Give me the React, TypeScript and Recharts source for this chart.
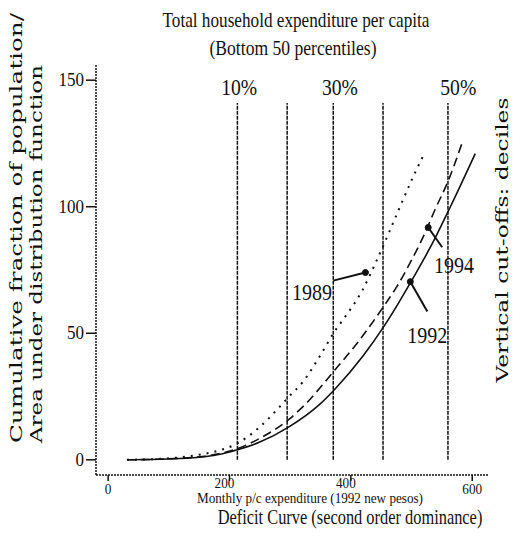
import React from 'react';
import { LineChart, Line, XAxis, YAxis, ReferenceLine, ReferenceDot, Customized } from 'recharts';

// ---- data ----
const xTicks = [0, 200, 400, 600];
const yTicks = [0, 50, 100, 150];
const deciles = [213, 295, 371, 453, 560];
const decileTop = 141;
const pctLabels = ['10%', '30%', '50%'];
const pctLabelX = [216, 382, 577];
const pctLabelY = 144;

const x1989 = [31, 100, 150, 180, 213, 250, 279, 298, 320, 349, 374, 386, 419, 443, 465, 481, 503, 522];
const y1989 = [0, 0.6, 2, 3.5, 6.5, 13, 20, 25, 30.5, 41, 51, 55, 67, 79, 91, 100, 112, 121.5];

const x1992 = [31, 100, 150, 180, 213, 250, 298, 349, 374, 420, 458, 503, 531, 564, 605];
const y1992 = [0, 0.3, 1, 2, 4, 7, 13, 22, 28, 41, 54, 72, 84, 100, 121];

const x1994 = [31, 100, 150, 180, 213, 250, 298, 321, 374, 410, 458, 476, 498, 519, 539, 560, 583];
const y1994 = [0, 0.4, 1.2, 2.3, 4.4, 8.5, 16, 21, 35.6, 46, 62, 68.5, 78, 88, 99, 110, 125];

const years = ['1989', '1994', '1992'];
const yearLabelX = [369, 570, 526];
const yearLabelY = [63.3, 74, 46.3];
const yearAnchor = ['end', 'middle', 'middle'];
const pointerFromX = [371, 550.5, 526];
const pointerFromY = [70.8, 84, 58.6];
const pointerToX = [424, 527.5, 498];
const pointerToY = [74, 91.8, 70.4];

const toPts = (xs: number[], ys: number[]) => xs.map((x, i) => ({ x, y: ys[i] }));
const d1989 = toPts(x1989, y1989);
const d1992 = toPts(x1992, y1992);
const d1994 = toPts(x1994, y1994);

const SERIF = '"Liberation Serif", "Times New Roman", serif';
const SLAB = '"DejaVu Serif", serif';

const Texts = () => (
  <g fill="#111">
    <text x={296} y={27} textAnchor="middle" fontFamily={SERIF} fontSize={22} textLength={267} lengthAdjust="spacingAndGlyphs">
      Total household expenditure per capita
    </text>
    <text x={293} y={55} textAnchor="middle" fontFamily={SERIF} fontSize={21} textLength={167} lengthAdjust="spacingAndGlyphs">
      (Bottom 50 percentiles)
    </text>
    <text x={310} y={503} textAnchor="middle" fontFamily={SERIF} fontSize={14} textLength={226} lengthAdjust="spacingAndGlyphs">
      Monthly p/c expenditure (1992 new pesos)
    </text>
    <text transform="translate(350,524) scale(0.82,1)" textAnchor="middle" fontFamily={SERIF} fontSize={20}>
      Deficit Curve (second order dominance)
    </text>
    <text transform="translate(22,443) rotate(-90)" textAnchor="start" fontFamily={SLAB} fontSize={17} textLength={430} lengthAdjust="spacingAndGlyphs">
      Cumulative fraction of population/
    </text>
    <text transform="translate(42,443) rotate(-90)" textAnchor="start" fontFamily={SLAB} fontSize={17} textLength={378} lengthAdjust="spacingAndGlyphs">
      Area under distribution function
    </text>
    <text transform="translate(508,240) rotate(-90)" textAnchor="middle" fontFamily={SLAB} fontSize={17} textLength={285} lengthAdjust="spacingAndGlyphs">
      Vertical cut-offs: deciles
    </text>
  </g>
);

const YTick = (props: any) => (
  <text x={props.x} y={props.y} dy={6} textAnchor="end" fontFamily={SERIF} fontSize={19} fill="#111" textLength={String(props.payload.value).length * 8.5} lengthAdjust="spacingAndGlyphs">
    {props.payload.value}
  </text>
);

const XTick = (props: any) => {
  const v = props.payload.value;
  const inner = v !== 0 && v !== 600;
  return (
    <text x={props.x} y={props.y} dx={inner ? -5 : 0} dy={inner ? 5 : 11} textAnchor="middle" fontFamily={SERIF} fontSize={15} fill="#111" textLength={String(v).length * 6.6} lengthAdjust="spacingAndGlyphs">
      {v}
    </text>
  );
};

export default function App() {
  return (
    <div style={{ position: 'absolute', left: 0, top: 0, background: '#fff' }}>
      <LineChart width={517} height={538} margin={{ top: 65, right: 29, bottom: 62, left: 95 }}>
        <XAxis
          type="number"
          dataKey="x"
          domain={[-20, 626]}
          allowDataOverflow
          ticks={xTicks}
          height={1}
          tickSize={6}
          tick={<XTick />}
          axisLine={{ stroke: '#111', strokeWidth: 1.5, strokeDasharray: '2 1' }}
          tickLine={{ stroke: '#111', strokeWidth: 1.5 }}
        />
        <YAxis
          type="number"
          dataKey="y"
          domain={[-6, 156]}
          allowDataOverflow
          ticks={yTicks}
          width={1}
          tickSize={10}
          tick={<YTick />}
          axisLine={{ stroke: '#111', strokeWidth: 1.5, strokeDasharray: '2 1' }}
          tickLine={{ stroke: '#111', strokeWidth: 1.5 }}
        />
        {deciles.map((d) => (
          <ReferenceLine
            key={d}
            segment={[{ x: d, y: 0 }, { x: d, y: decileTop }]}
            stroke="#111"
            strokeWidth={1.5}
            strokeDasharray="4 1"
            ifOverflow="visible"
          />
        ))}
        <Line data={d1989} dataKey="y" type="monotone" stroke="#111" strokeWidth={2} strokeDasharray="2 6" dot={false} isAnimationActive={false} />
        <Line data={d1994} dataKey="y" type="monotone" stroke="#111" strokeWidth={1.6} strokeDasharray="9 5" dot={false} isAnimationActive={false} />
        <Line data={d1992} dataKey="y" type="monotone" stroke="#111" strokeWidth={1.6} dot={false} isAnimationActive={false} />
        {years.map((yr, i) => (
          <ReferenceLine
            key={'p' + yr}
            segment={[{ x: pointerFromX[i], y: pointerFromY[i] }, { x: pointerToX[i], y: pointerToY[i] }]}
            stroke="#111"
            strokeWidth={2}
            ifOverflow="visible"
          />
        ))}
        {years.map((yr, i) => (
          <ReferenceDot key={'a' + yr} x={pointerToX[i]} y={pointerToY[i]} r={3} fill="#111" stroke="#111" ifOverflow="visible" />
        ))}
        {years.map((yr, i) => (
          <ReferenceDot
            key={'t' + yr}
            x={yearLabelX[i]}
            y={yearLabelY[i]}
            r={0}
            ifOverflow="visible"
            shape={(p: any) => (
              <text x={p.cx} y={p.cy} textAnchor={yearAnchor[i] as any} fontFamily={SERIF} fontSize={24} fill="#111" textLength={40} lengthAdjust="spacingAndGlyphs">
                {yr}
              </text>
            )}
          />
        ))}
        {pctLabels.map((lb, i) => (
          <ReferenceDot
            key={'l' + lb}
            x={pctLabelX[i]}
            y={pctLabelY}
            r={0}
            ifOverflow="visible"
            shape={(p: any) => (
              <text x={p.cx} y={p.cy} textAnchor="middle" fontFamily={SERIF} fontSize={23} fill="#111" textLength={36} lengthAdjust="spacingAndGlyphs">
                {lb}
              </text>
            )}
          />
        ))}
        <Customized component={<Texts />} />
      </LineChart>
    </div>
  );
}
